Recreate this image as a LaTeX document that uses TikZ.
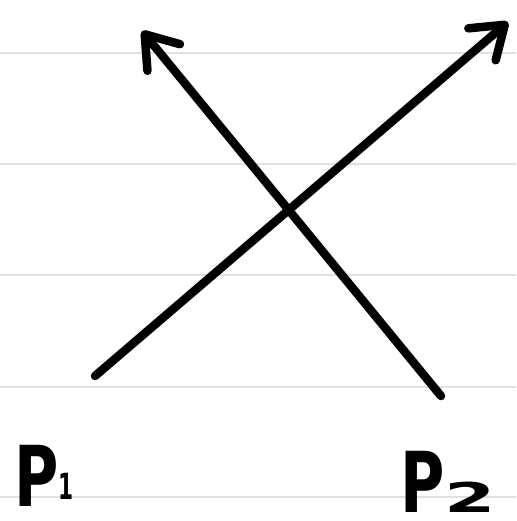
\documentclass[tikz,border=0pt]{standalone}
\usepackage{fontspec}
\setmainfont{DejaVu Sans}
\usetikzlibrary{arrows.meta}
\begin{document}
\begin{tikzpicture}[x=1pt,y=-1pt,
  ruled/.style={draw=black!12,line width=2pt},
  vec/.style={line width=8.5pt,line cap=round,line join=round,
    -{Straight Barb[length=30pt,width=42pt,round]}},
  lbl/.style={inner sep=0pt,font=\bfseries\fontsize{84}{88}\selectfont}]
\useasboundingbox (0,0) rectangle (516,521);
\foreach \yy in {53,164,275,387,497}{\draw[ruled] (0,\yy) -- (516,\yy);}
\coordinate (a1) at (95,376);
\coordinate (b1) at (508,22);
\coordinate (a2) at (441,396);
\coordinate (b2) at (142,31);
\draw[vec] (a1) -- (b1);
\draw[vec] (a2) -- (b2);
\node[lbl,anchor=base west] (p1) at (14,506) {\scalebox{0.72}[1]{P}\raisebox{7pt}{\scalebox{0.6}[1]{\fontsize{36}{36}\selectfont 1}}};
\node[lbl,anchor=base west] (p2) at (400,512) {\scalebox{0.72}[1]{P}\scalebox{1.8}[1]{\fontsize{41}{41}\selectfont 2}};
\end{tikzpicture}
\end{document}
